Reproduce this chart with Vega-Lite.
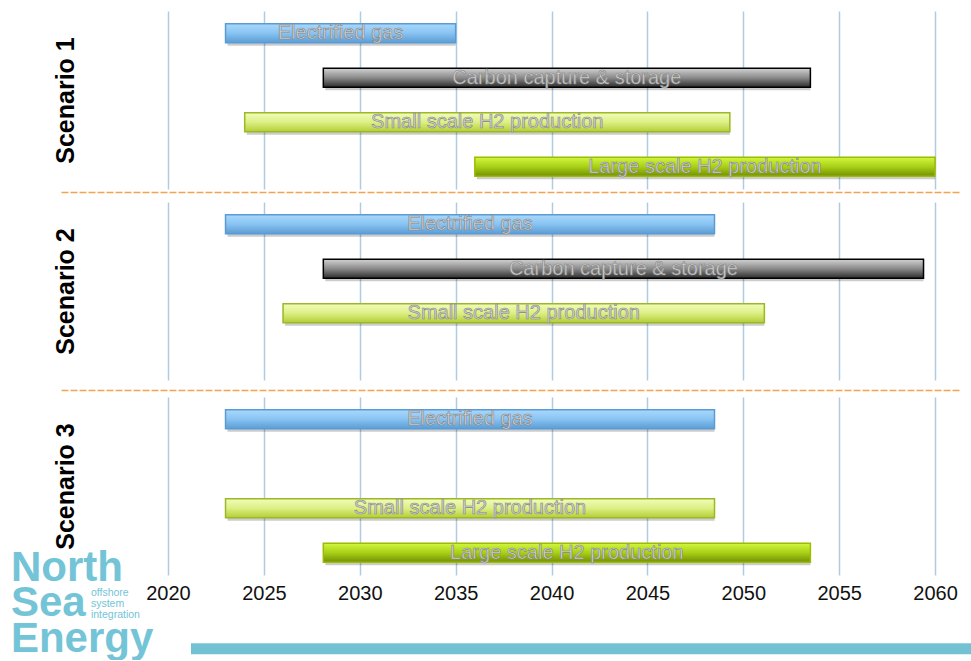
{
  "$schema": "https://vega.github.io/schema/vega-lite/v6.json",
  "background": "white",
  "padding": {"left": 10, "top": 11, "right": 0, "bottom": 0},
  "data": {
    "values": [
      {"scenario": "Scenario 1", "tech": "Electrified gas", "start": 2023, "end": 2035},
      {"scenario": "Scenario 1", "tech": "Carbon capture & storage", "start": 2028.1, "end": 2053.5},
      {"scenario": "Scenario 1", "tech": "Small scale H2 production", "start": 2024, "end": 2049.3},
      {"scenario": "Scenario 1", "tech": "Large scale H2 production", "start": 2036, "end": 2060},
      {"scenario": "Scenario 2", "tech": "Electrified gas", "start": 2023, "end": 2048.5},
      {"scenario": "Scenario 2", "tech": "Carbon capture & storage", "start": 2028.1, "end": 2059.4},
      {"scenario": "Scenario 2", "tech": "Small scale H2 production", "start": 2026, "end": 2051.1},
      {"scenario": "Scenario 3", "tech": "Electrified gas", "start": 2023, "end": 2048.5},
      {"scenario": "Scenario 3", "tech": "Small scale H2 production", "start": 2023, "end": 2048.5},
      {"scenario": "Scenario 3", "tech": "Large scale H2 production", "start": 2028.1, "end": 2053.5}
    ]
  },
  "spacing": 10,
  "vconcat": [
    {
      "width": 898,
      "height": 178,
      "transform": [{"filter": "datum.scenario === 'Scenario 1'"}],
      "encoding": {
        "y": {"field": "tech", "type": "nominal", "scale": {"domain": ["Electrified gas", "Carbon capture & storage", "Small scale H2 production", "Large scale H2 production"], "paddingInner": 0, "paddingOuter": 0}, "axis": {"title": "Scenario 1"}}
      },
      "layer": [
        {
          "mark": {"type": "bar", "size": 19, "fill": "#000000", "opacity": 0.2, "xOffset": 2, "yOffset": 3},
          "encoding": {
            "x": {"field": "start", "type": "quantitative", "title": null, "scale": {"domain": [2014.42, 2061.25], "nice": false, "zero": false},
              "axis": {"values": [2020, 2025, 2030, 2035, 2040, 2045, 2050, 2055, 2060], "domain": true, "domainColor": "#f3a44e", "domainDash": [7, 2], "domainWidth": 1.3, "offset": 3}},
            "x2": {"field": "end"}
          }
        },
        {
          "mark": {"type": "bar", "size": 19, "strokeWidth": 1.5},
          "encoding": {
            "x": {"field": "start", "type": "quantitative", "title": null},
            "x2": {"field": "end"},
            "fill": {
              "condition": [
                {"test": "datum.tech === 'Electrified gas'", "value": {"gradient": "linear", "x1": 0, "y1": 0, "x2": 0, "y2": 1, "stops": [{"offset": 0, "color": "#a9d8fc"}, {"offset": 0.45, "color": "#8cc6f4"}, {"offset": 1, "color": "#5b9dd5"}]}},
                {"test": "datum.tech === 'Carbon capture & storage'", "value": {"gradient": "linear", "x1": 0, "y1": 0, "x2": 0, "y2": 1, "stops": [{"offset": 0, "color": "#d2d2d2"}, {"offset": 0.5, "color": "#8a8a8a"}, {"offset": 1, "color": "#2c2c2c"}]}},
                {"test": "datum.tech === 'Small scale H2 production'", "value": {"gradient": "linear", "x1": 0, "y1": 0, "x2": 0, "y2": 1, "stops": [{"offset": 0, "color": "#f2fcbc"}, {"offset": 0.5, "color": "#dcef84"}, {"offset": 1, "color": "#b2ce36"}]}}
              ],
              "value": {"gradient": "linear", "x1": 0, "y1": 0, "x2": 0, "y2": 1, "stops": [{"offset": 0, "color": "#d2f83e"}, {"offset": 0.5, "color": "#a8d016"}, {"offset": 1, "color": "#748f04"}]}
            },
            "stroke": {"field": "tech", "type": "nominal", "legend": null, "scale": {"domain": ["Electrified gas", "Carbon capture & storage", "Small scale H2 production", "Large scale H2 production"], "range": ["#5b9bd5", "#000000", "#9bb825", "#9cbc00"]}}
          }
        },
        {
          "transform": [{"fold": ["start", "end"], "as": ["edge", "year"]}],
          "mark": {"type": "text", "fontSize": 20, "fill": "#d2d2d2", "stroke": "#858585", "strokeWidth": 0.6, "baseline": "middle"},
          "encoding": {
            "x": {"aggregate": "mean", "field": "year", "type": "quantitative", "title": null},
            "text": {"field": "tech", "type": "nominal"}
          }
        }
      ]
    },
    {
      "width": 898,
      "height": 178,
      "transform": [{"filter": "datum.scenario === 'Scenario 2'"}],
      "encoding": {
        "y": {"field": "tech", "type": "nominal", "scale": {"domain": ["Electrified gas", "Carbon capture & storage", "Small scale H2 production", "Large scale H2 production"], "paddingInner": 0, "paddingOuter": 0}, "axis": {"title": "Scenario 2"}}
      },
      "layer": [
        {
          "mark": {"type": "bar", "size": 19, "fill": "#000000", "opacity": 0.2, "xOffset": 2, "yOffset": 3},
          "encoding": {
            "x": {"field": "start", "type": "quantitative", "title": null, "scale": {"domain": [2014.42, 2061.25], "nice": false, "zero": false},
              "axis": {"values": [2020, 2025, 2030, 2035, 2040, 2045, 2050, 2055, 2060]}},
            "x2": {"field": "end"}
          }
        },
        {
          "mark": {"type": "bar", "size": 19, "strokeWidth": 1.5},
          "encoding": {
            "x": {"field": "start", "type": "quantitative", "title": null},
            "x2": {"field": "end"},
            "fill": {
              "condition": [
                {"test": "datum.tech === 'Electrified gas'", "value": {"gradient": "linear", "x1": 0, "y1": 0, "x2": 0, "y2": 1, "stops": [{"offset": 0, "color": "#a9d8fc"}, {"offset": 0.45, "color": "#8cc6f4"}, {"offset": 1, "color": "#5b9dd5"}]}},
                {"test": "datum.tech === 'Carbon capture & storage'", "value": {"gradient": "linear", "x1": 0, "y1": 0, "x2": 0, "y2": 1, "stops": [{"offset": 0, "color": "#d2d2d2"}, {"offset": 0.5, "color": "#8a8a8a"}, {"offset": 1, "color": "#2c2c2c"}]}},
                {"test": "datum.tech === 'Small scale H2 production'", "value": {"gradient": "linear", "x1": 0, "y1": 0, "x2": 0, "y2": 1, "stops": [{"offset": 0, "color": "#f2fcbc"}, {"offset": 0.5, "color": "#dcef84"}, {"offset": 1, "color": "#b2ce36"}]}}
              ],
              "value": {"gradient": "linear", "x1": 0, "y1": 0, "x2": 0, "y2": 1, "stops": [{"offset": 0, "color": "#d2f83e"}, {"offset": 0.5, "color": "#a8d016"}, {"offset": 1, "color": "#748f04"}]}
            },
            "stroke": {"field": "tech", "type": "nominal", "legend": null, "scale": {"domain": ["Electrified gas", "Carbon capture & storage", "Small scale H2 production", "Large scale H2 production"], "range": ["#5b9bd5", "#000000", "#9bb825", "#9cbc00"]}}
          }
        },
        {
          "transform": [{"fold": ["start", "end"], "as": ["edge", "year"]}],
          "mark": {"type": "text", "fontSize": 20, "fill": "#d2d2d2", "stroke": "#858585", "strokeWidth": 0.6, "baseline": "middle"},
          "encoding": {
            "x": {"aggregate": "mean", "field": "year", "type": "quantitative", "title": null},
            "text": {"field": "tech", "type": "nominal"}
          }
        }
      ]
    },
    {
      "width": 898,
      "height": 178,
      "resolve": {"axis": {"x": "independent"}},
      "layer": [
        {
          "transform": [{"filter": "datum.scenario === 'Scenario 3'"}],
          "encoding": {
            "y": {"field": "tech", "type": "nominal", "scale": {"domain": ["Electrified gas", "Carbon capture & storage", "Small scale H2 production", "Large scale H2 production"], "paddingInner": 0, "paddingOuter": 0}, "axis": {"title": "Scenario 3"}}
          },
          "layer": [
            {
              "mark": {"type": "bar", "size": 19, "fill": "#000000", "opacity": 0.2, "xOffset": 2, "yOffset": 3},
              "encoding": {
                "x": {"field": "start", "type": "quantitative", "title": null, "scale": {"domain": [2014.42, 2061.25], "nice": false, "zero": false},
                  "axis": {"values": [2020, 2025, 2030, 2035, 2040, 2045, 2050, 2055, 2060], "labels": true, "format": "d", "labelFontSize": 20, "labelColor": "#111111", "labelPadding": 8}},
                "x2": {"field": "end"}
              }
            },
            {
              "mark": {"type": "bar", "size": 19, "strokeWidth": 1.5},
              "encoding": {
                "x": {"field": "start", "type": "quantitative", "title": null},
                "x2": {"field": "end"},
                "fill": {
                  "condition": [
                    {"test": "datum.tech === 'Electrified gas'", "value": {"gradient": "linear", "x1": 0, "y1": 0, "x2": 0, "y2": 1, "stops": [{"offset": 0, "color": "#a9d8fc"}, {"offset": 0.45, "color": "#8cc6f4"}, {"offset": 1, "color": "#5b9dd5"}]}},
                    {"test": "datum.tech === 'Carbon capture & storage'", "value": {"gradient": "linear", "x1": 0, "y1": 0, "x2": 0, "y2": 1, "stops": [{"offset": 0, "color": "#d2d2d2"}, {"offset": 0.5, "color": "#8a8a8a"}, {"offset": 1, "color": "#2c2c2c"}]}},
                    {"test": "datum.tech === 'Small scale H2 production'", "value": {"gradient": "linear", "x1": 0, "y1": 0, "x2": 0, "y2": 1, "stops": [{"offset": 0, "color": "#f2fcbc"}, {"offset": 0.5, "color": "#dcef84"}, {"offset": 1, "color": "#b2ce36"}]}}
                  ],
                  "value": {"gradient": "linear", "x1": 0, "y1": 0, "x2": 0, "y2": 1, "stops": [{"offset": 0, "color": "#d2f83e"}, {"offset": 0.5, "color": "#a8d016"}, {"offset": 1, "color": "#748f04"}]}
                },
                "stroke": {"field": "tech", "type": "nominal", "legend": null, "scale": {"domain": ["Electrified gas", "Carbon capture & storage", "Small scale H2 production", "Large scale H2 production"], "range": ["#5b9bd5", "#000000", "#9bb825", "#9cbc00"]}}
              }
            },
            {
              "transform": [{"fold": ["start", "end"], "as": ["edge", "year"]}],
              "mark": {"type": "text", "fontSize": 20, "fill": "#d2d2d2", "stroke": "#858585", "strokeWidth": 0.6, "baseline": "middle"},
              "encoding": {
                "x": {"aggregate": "mean", "field": "year", "type": "quantitative", "title": null},
                "text": {"field": "tech", "type": "nominal"}
              }
            }
          ]
        },
        {
          "data": {"values": [{}]},
          "encoding": {
            "y": {"datum": "Large scale H2 production", "type": "nominal"}
          },
          "layer": [
            {
              "mark": {"type": "text", "text": "North", "align": "left", "baseline": "alphabetic", "dy": 28, "fontSize": 42, "fontWeight": "bold", "fill": "#73c4d6"},
              "encoding": {
                "x": {"datum": 2011.81, "type": "quantitative", "title": null,
                  "axis": {"orient": "top", "grid": false, "domain": true, "domainColor": "#f3a44e", "domainDash": [7, 2], "domainWidth": 1.3, "offset": 7}}
              }
            },
            {
              "mark": {"type": "text", "text": "Sea", "align": "left", "baseline": "alphabetic", "dy": 63.5, "fontSize": 42, "fontWeight": "bold", "fill": "#73c4d6"},
              "encoding": {
                "x": {"datum": 2011.81, "type": "quantitative", "title": null}
              }
            },
            {
              "mark": {"type": "text", "text": "Energy", "align": "left", "baseline": "alphabetic", "dy": 99, "fontSize": 42, "fontWeight": "bold", "fill": "#73c4d6"},
              "encoding": {
                "x": {"datum": 2011.81, "type": "quantitative", "title": null}
              }
            },
            {
              "mark": {"type": "text", "text": ["offshore", "system", "integration"], "align": "left", "baseline": "alphabetic", "dy": 43.5, "lineHeight": 11, "fontSize": 10.5, "fill": "#73c4d6"},
              "encoding": {
                "x": {"datum": 2015.98, "type": "quantitative", "title": null}
              }
            },
            {
              "mark": {"type": "rule", "strokeWidth": 11, "color": "#72c2d4", "yOffset": 96},
              "encoding": {
                "x": {"datum": 2021.2, "type": "quantitative", "title": null},
                "x2": {"datum": 2062}
              }
            }
          ]
        }
      ]
    }
  ],
  "config": {
    "view": {"stroke": null},
    "font": "Liberation Sans",
    "axisX": {"grid": true, "gridColor": "#b0cce0", "gridWidth": 1.5, "domain": false, "ticks": false, "tickSize": 0, "labels": false},
    "axisY": {"labels": false, "ticks": false, "domain": false, "grid": false, "titleFontSize": 25, "titleFontWeight": "bold", "titleColor": "#000000", "titleX": 4, "titleBaseline": "middle"}
  }
}
